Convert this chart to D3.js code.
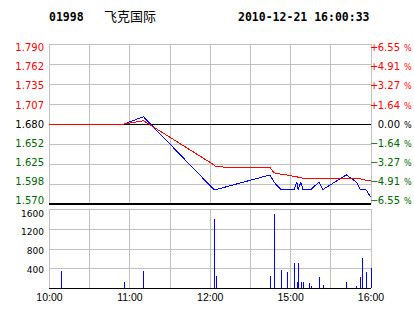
<!DOCTYPE html>
<html>
<head>
<meta charset="utf-8">
<script src="https://cdn.jsdelivr.net/npm/d3@7"></script>
<style>
  body { margin: 0; background: #fff; }
  svg { display: block; }
</style>
</head>
<body>
<div id="chart"></div>
<script>
// header
const stockCode = "01998";
const stockName = "飞克国际";
const stamp = "2010-12-21 16:00:33";

// price axis
const prevClose = 1.680;
const priceTicks = [1.790, 1.762, 1.735, 1.707, 1.680, 1.652, 1.625, 1.598, 1.570];
const priceLabels = ["1.790", "1.762", "1.735", "1.707", "1.680", "1.652", "1.625", "1.598", "1.570"];
const pctLabels = ["+6.55", "+4.91", "+3.27", "+1.64", "0.00", "-1.64", "-3.27", "-4.91", "-6.55"];

// time axis: minutes since 10:00 (lunch break 12:30-14:30 removed)
const timeTicks = [0, 60, 120, 180, 240];
const timeLabels = ["10:00", "11:00", "12:00", "15:00", "16:00"];
const gridMinutes = [0, 30, 60, 90, 120, 150, 180, 210, 240];

// volume axis
const volTicks = [400, 800, 1200, 1600];

// trades (minute index, price, average price, volume)
const tradeMin = [9, 56, 70.5, 123, 125, 165, 168, 173, 177.5, 183, 185, 186, 188, 189.5, 194, 195.5, 201.5, 204.5, 222, 229.5, 232.5, 234, 236.5, 240];
const tradePrice = [1.68, 1.68, 1.69, 1.59, 1.59, 1.61, 1.60, 1.59, 1.59, 1.59, 1.60, 1.59, 1.60, 1.59, 1.59, 1.59, 1.60, 1.59, 1.61, 1.60, 1.59, 1.59, 1.59, 1.58];
const avgPrice = [1.680, 1.680, 1.6845, 1.624, 1.621, 1.620, 1.613, 1.611, 1.610, 1.608, 1.608, 1.606, 1.606, 1.6056, 1.6054, 1.6053, 1.6051, 1.605, 1.605, 1.605, 1.6045, 1.6034, 1.6028, 1.6017];
const tradeVol = [340, 130, 340, 1400, 250, 250, 1500, 370, 330, 510, 130, 510, 130, 130, 100, 50, 230, 70, 130, 50, 230, 610, 330, 410];

const W = 414, H = 314;
const left = 49, right = 370.5;
const green = "#006600", grid = "#c0c0c0";

const svg = d3.select("#chart").append("svg")
    .attr("width", W)
    .attr("height", H)
    .style("font-family", "'DejaVu Sans', sans-serif");

svg.append("rect").attr("width", W).attr("height", H).attr("fill", "#fff");

// scales
const x = d3.scaleLinear().domain([0, 240]).range([left, right]);
const y = d3.scaleLinear().domain([1.570, 1.790]).range([204, 44]);
const yLab = d3.scaleLinear().domain([1.570, 1.790]).range([200.3, 47.3]);
const yv = d3.scaleLinear().domain([0, 1600]).range([288, 209]);
const yvLab = d3.scaleLinear().domain([400, 1600]).range([269.5, 213.3]);

// title
svg.append("text").attr("x", 49).attr("y", 21)
    .style("font-family", "'DejaVu Sans Mono', monospace").style("font-weight", "bold").style("font-size", "11.5px")
    .text(stockCode);
svg.append("text").attr("x", 104).attr("y", 21)
    .style("font-family", "'Noto Sans CJK SC', sans-serif").style("font-size", "13px")
    .text(stockName);
svg.append("text").attr("x", 238).attr("y", 21)
    .style("font-family", "'DejaVu Sans Mono', monospace").style("font-weight", "bold").style("font-size", "11.5px")
    .text(stamp);

// ---- price panel ----
const main = svg.append("g").attr("shape-rendering", "crispEdges");

main.selectAll("line.hgrid")
    .data(priceTicks)
    .enter().append("line")
    .attr("class", "hgrid")
    .attr("x1", left).attr("x2", right)
    .attr("y1", d => Math.round(y(d)) + 0.5).attr("y2", d => Math.round(y(d)) + 0.5)
    .attr("stroke", grid);

main.selectAll("line.vgrid")
    .data(gridMinutes)
    .enter().append("line")
    .attr("class", "vgrid")
    .attr("x1", d => Math.round(x(d)) + 0.5).attr("x2", d => Math.round(x(d)) + 0.5)
    .attr("y1", y(1.790)).attr("y2", y(1.570))
    .attr("stroke", grid);

// previous close line
main.append("line")
    .attr("x1", left).attr("x2", right)
    .attr("y1", Math.round(y(prevClose)) + 0.5).attr("y2", Math.round(y(prevClose)) + 0.5)
    .attr("stroke", "#000");

const pts = [{ m: 0, p: prevClose, a: prevClose }].concat(
    tradeMin.map((m, i) => ({ m: m, p: tradePrice[i], a: avgPrice[i] })));

const priceLine = d3.line().x(d => x(d.m)).y(d => y(d.p));
const avgLine = d3.line().x(d => x(d.m)).y(d => y(d.a));

main.append("path")
    .attr("d", priceLine(pts))
    .attr("fill", "none")
    .attr("stroke", "#0000ff")
    .attr("stroke-width", 1);

main.append("path")
    .attr("d", avgLine(pts))
    .attr("fill", "none")
    .attr("stroke", "#ff0000")
    .attr("stroke-width", 1);

// bottom border
main.append("line")
    .attr("x1", left).attr("x2", right + 0.5)
    .attr("y1", y(1.570)).attr("y2", y(1.570))
    .attr("stroke", "#000").attr("stroke-width", 2);

// price labels (left) and percent labels (right)
const tickColor = (d) => d > prevClose ? "#ff0000" : d < prevClose ? green : "#000";

svg.selectAll("text.plab")
    .data(priceTicks)
    .enter().append("text")
    .attr("class", "plab")
    .attr("x", 44)
    .attr("y", d => yLab(d) + 3.7)
    .attr("text-anchor", "end")
    .style("font-size", "10px")
    .attr("fill", tickColor)
    .text((d, i) => priceLabels[i]);

const pct = svg.selectAll("g.pct")
    .data(priceTicks)
    .enter().append("g")
    .attr("class", "pct")
    .attr("fill", tickColor)
    .style("font-size", "10px");

pct.append("text")
    .attr("x", 370)
    .attr("y", d => yLab(d) + 3.7)
    .text((d, i) => pctLabels[i].startsWith("+") ? "+" : pctLabels[i].startsWith("-") ? "\u2212" : "");

pct.append("text")
    .attr("x", 400)
    .attr("y", d => yLab(d) + 3.7)
    .attr("text-anchor", "end")
    .text((d, i) => pctLabels[i].replace(/^[+-]/, ""));

pct.append("text")
    .attr("x", 404)
    .attr("y", d => yLab(d) + 3.7)
    .style("font-size", "8px")
    .text("%");

// ---- volume panel ----
const vol = svg.append("g").attr("shape-rendering", "crispEdges");

vol.selectAll("line.hgrid")
    .data(volTicks)
    .enter().append("line")
    .attr("class", "hgrid")
    .attr("x1", left).attr("x2", right)
    .attr("y1", d => Math.round(yv(d)) + 0.5).attr("y2", d => Math.round(yv(d)) + 0.5)
    .attr("stroke", grid);

vol.selectAll("line.vgrid")
    .data(gridMinutes)
    .enter().append("line")
    .attr("class", "vgrid")
    .attr("x1", d => Math.round(x(d)) + 0.5).attr("x2", d => Math.round(x(d)) + 0.5)
    .attr("y1", yv(1600)).attr("y2", yv(0))
    .attr("stroke", grid);

vol.selectAll("rect.bar")
    .data(tradeMin)
    .enter().append("rect")
    .attr("class", "bar")
    .attr("x", d => Math.round(x(d)) - 0.5)
    .attr("width", 1.5)
    .attr("y", (d, i) => yv(tradeVol[i]))
    .attr("height", (d, i) => yv(0) - yv(tradeVol[i]))
    .attr("fill", "#0000ff");

vol.append("line")
    .attr("x1", left).attr("x2", right + 0.5)
    .attr("y1", yv(0) + 0.5).attr("y2", yv(0) + 0.5)
    .attr("stroke", "#000").attr("stroke-width", 1.5);

svg.selectAll("text.vlab")
    .data(volTicks)
    .enter().append("text")
    .attr("class", "vlab")
    .attr("x", 44)
    .attr("y", d => yvLab(d) + 3.3)
    .attr("text-anchor", "end")
    .style("font-size", "9px")
    .attr("fill", "#000")
    .text(d => d);

// time axis
const xAxis = d3.axisBottom(x)
    .tickValues(timeTicks)
    .tickFormat((d, i) => timeLabels[i])
    .tickSize(0)
    .tickPadding(0);

svg.append("g")
    .attr("transform", "translate(0,294)")
    .call(xAxis)
    .call(g => g.select(".domain").remove())
    .call(g => g.selectAll("text")
        .attr("dy", "0.71em")
        .style("font-family", "'Liberation Sans', Arial, sans-serif")
        .style("font-size", "10.5px")
        .attr("fill", "#000"));
</script>
</body>
</html>
